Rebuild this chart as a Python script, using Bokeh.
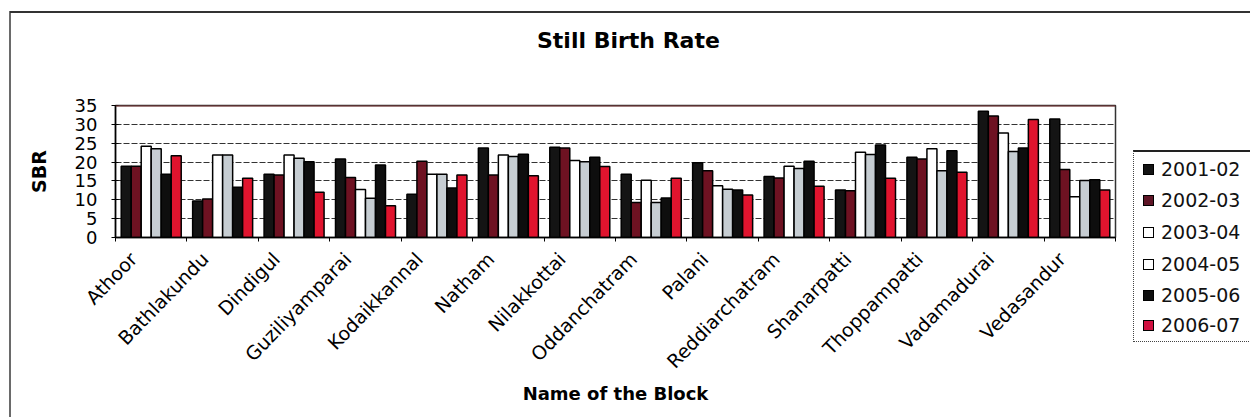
from bokeh.plotting import figure
from bokeh.layouts import row, column
from bokeh.models import (Range1d, FixedTicker, Span, ColumnDataSource, Div)
from bokeh.embed import file_html
from bokeh.resources import INLINE

blocks = ["Athoor", "Bathlakundu", "Dindigul", "Guziliyamparai", "Kodaikkannal",
          "Natham", "Nilakkottai", "Oddanchatram", "Palani", "Reddiarchatram",
          "Shanarpatti", "Thoppampatti", "Vadamadurai", "Vedasandur"]
years = ["2001-02", "2002-03", "2003-04", "2004-05", "2005-06", "2006-07"]

sbr_2001_02 = [18.9, 9.7, 16.8, 20.8, 11.5, 23.7, 23.9, 16.8, 19.8, 16.2, 12.6, 21.3, 33.5, 31.4]
sbr_2002_03 = [18.9, 10.2, 16.6, 15.9, 20.2, 16.6, 23.7, 9.3, 17.7, 15.8, 12.4, 20.8, 32.2, 18.0]
sbr_2003_04 = [24.2, 21.9, 21.9, 12.7, 16.8, 21.9, 20.4, 15.2, 13.7, 18.9, 22.6, 23.5, 27.7, 10.8]
sbr_2004_05 = [23.5, 21.9, 21.0, 10.4, 16.8, 21.5, 20.1, 9.3, 12.8, 18.3, 22.0, 17.7, 22.8, 15.1]
sbr_2005_06 = [16.8, 13.3, 20.1, 19.2, 13.1, 22.1, 21.3, 10.5, 12.6, 20.2, 24.5, 23.0, 23.7, 15.3]
sbr_2006_07 = [21.7, 15.7, 12.0, 8.4, 16.6, 16.4, 18.8, 15.7, 11.3, 13.6, 15.7, 17.3, 31.3, 12.6]
series = [sbr_2001_02, sbr_2002_03, sbr_2003_04, sbr_2004_05, sbr_2005_06, sbr_2006_07]

y_ticks = [0, 5, 10, 15, 20, 25, 30, 35]

bar_colors = ["#141414", "#6e1222", "#ffffff", "#c6cdd2", "#0e0e0e", "#e0142e"]
legend_colors = ["#141414", "#5e1526", "#ffffff", "#ffffff", "#0e0e0e", "#d01040"]

FONT = "DejaVu Sans"
TITLE_H = 50
H = 417 - TITLE_H
W_MAIN, W_LEG = 1133, 117
MB_TOP = 105 - TITLE_H
FRAME_H = 132

# title strip (HTML)
title_div = Div(
    text=('<div style="position:relative;width:1250px;height:50px;">'
          '<span style="position:absolute;left:537px;top:25px;white-space:nowrap;'
          'font-family:\'DejaVu Sans\';font-weight:bold;font-size:22px;color:#000;">'
          'Still Birth Rate</span></div>'),
    width=1250, height=TITLE_H, margin=0)

p = figure(width=W_MAIN, height=H, output_backend="svg", toolbar_location=None,
           x_range=Range1d(-0.25, len(blocks) - 0.25), y_range=Range1d(0, 35),
           min_border_left=115, min_border_right=18, min_border_top=MB_TOP,
           min_border_bottom=H - MB_TOP - FRAME_H)
p.background_fill_color = "white"
p.border_fill_alpha = 0
p.outline_line_color = "#333333"
p.outline_line_width = 1.5

p.xgrid.grid_line_color = None
p.ygrid.grid_line_color = "#333333"
p.ygrid.grid_line_dash = "6 2"
p.ygrid.grid_line_width = 1
p.ygrid.ticker = FixedTicker(ticks=y_ticks)

bw = 0.14
for j, (vals, col) in enumerate(zip(series, bar_colors)):
    src = ColumnDataSource(dict(x=[i + 0.25 + (j - 2.5) * bw for i in range(len(blocks))],
                                top=vals))
    p.vbar(x="x", top="top", width=bw, source=src, fill_color=col,
           line_color="black", line_width=1.5)

p.add_layout(Span(location=35, dimension="width", line_color="#7a3535", line_width=2))

p.yaxis.ticker = FixedTicker(ticks=y_ticks)
p.yaxis.major_label_text_font = FONT
p.yaxis.major_label_text_font_size = "18px"
p.yaxis.major_label_text_color = "black"
p.yaxis.major_tick_in = 3
p.yaxis.major_tick_out = 4
p.yaxis.major_label_standoff = 14
p.yaxis.minor_tick_line_color = None
p.yaxis.axis_line_color = "black"
p.yaxis.axis_line_width = 1.5
p.yaxis.major_tick_line_color = "black"
p.yaxis.axis_label = "SBR"
p.yaxis.axis_label_text_font = FONT
p.yaxis.axis_label_text_font_style = "bold"
p.yaxis.axis_label_text_font_size = "19px"
p.yaxis.axis_label_text_color = "black"
p.yaxis.axis_label_standoff = 22

xa = p.below[0]
xa.ticker = FixedTicker(ticks=list(range(len(blocks))),
                        minor_ticks=[i - 0.25 for i in range(len(blocks) + 1)])
xa.major_label_overrides = {i: b for i, b in enumerate(blocks)}
xa.major_label_orientation = 0.8
xa.major_label_text_font = FONT
xa.major_label_text_font_size = "19px"
xa.major_label_text_color = "black"
xa.major_tick_in = 0
xa.major_tick_out = 0
xa.major_label_standoff = 14
xa.minor_tick_in = 0
xa.minor_tick_out = 4
xa.minor_tick_line_color = "black"
xa.axis_line_color = "black"
xa.axis_line_width = 1.5
xa.axis_label = "Name of the Block"
xa.axis_label_text_font = FONT
xa.axis_label_text_font_style = "bold"
xa.axis_label_text_font_size = "18px"
xa.axis_label_text_color = "black"
xa.axis_label_standoff = 0

# legend as an HTML panel to the right of the plot
item_tops = [17, 48, 80, 112, 143, 173]   # item centres below the legend box top
entries = []
for yr, col, cy in zip(years, legend_colors, item_tops):
    entries.append(
        f'<div style="position:absolute;left:9px;top:{cy - 12}px;height:24px;'
        f'display:flex;align-items:center;white-space:nowrap;">'
        f'<span style="display:inline-block;width:11px;height:11px;background:{col};'
        f'border:1.5px solid #000;"></span>'
        f'<span style="margin-left:7px;font-family:\'DejaVu Sans\';font-size:19px;'
        f'color:#111;line-height:24px;">{yr}</span></div>')
legend_html = (
    f'<div style="position:relative;width:{W_LEG}px;height:{H}px;overflow:hidden;">'
    f'<div style="position:absolute;left:0;top:{150 - TITLE_H}px;width:140px;height:192px;'
    'background:#fff;border-top:2px solid #222;border-left:1.5px dotted #444;'
    'border-bottom:1.5px dotted #444;box-sizing:border-box;">'
    + "".join(entries) + '</div></div>')
leg = Div(text=legend_html, width=W_LEG, height=H, margin=0)

layout = column(title_div, row(p, leg, spacing=0), spacing=0)
layout.styles = {
    "background": ("linear-gradient(#333333, #333333) 10px 11px / 1240px 2px no-repeat, "
                   "linear-gradient(#6a6a6a, #6a6a6a) 9px 11px / 2px 406px no-repeat, #ffffff")
}

open("out.html", "w").write(file_html(layout, INLINE))
